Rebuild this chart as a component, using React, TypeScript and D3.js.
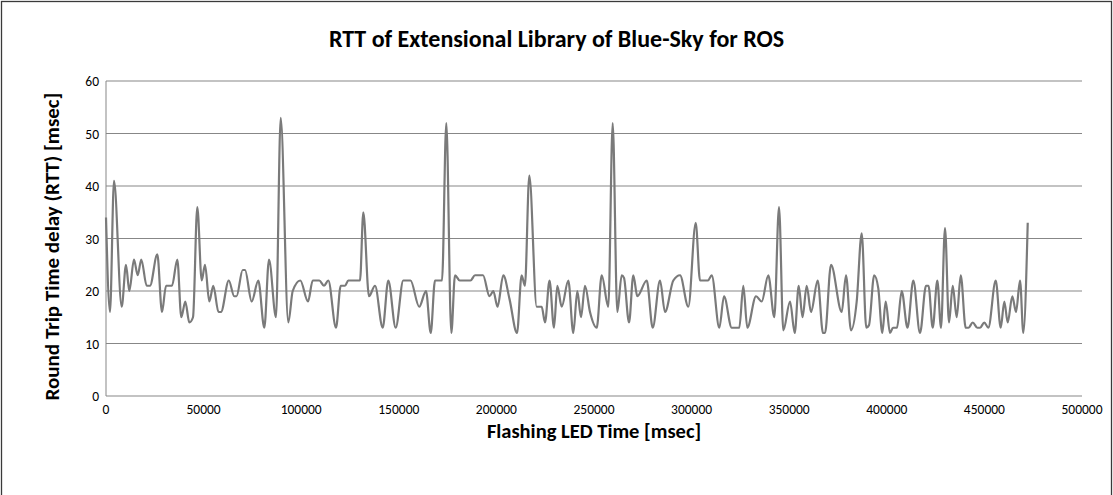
import React from "react";
import * as d3 from "d3";

// flashing LED time [msec] and round trip time [msec]
const times = [
  0, 2050, 4100, 8040, 10250, 11940, 14340, 16240, 18080, 20850, 22540, 26280, 28690, 30740, 33810, 36530,
  38580, 40630, 42680, 44570, 46770, 49030, 50720, 52920, 54970, 57630, 58910, 62910, 65680, 66860, 70030,
  71210, 74640, 78020, 81100, 83500, 87090, 89500, 93390, 95650, 99540, 103490, 105900, 109270, 111680,
  113890, 117830, 120240, 122440, 124130, 130120, 131820, 134730, 137810, 141750, 144620, 148410, 152300,
  156000, 160460, 163940, 166350, 168550, 172140, 174340, 176900, 178800, 181200, 186740, 189040, 193140,
  196470, 198420, 200570, 203540, 206700, 210560, 212920, 214610, 216860, 220650, 223210, 224900, 227210,
  229510, 231200, 233460, 236840, 239400, 241450, 243340, 245390, 247950, 251390, 253950, 257330, 259580,
  261940, 264200, 265370, 267940, 270140, 272190, 277010, 280080, 283820, 286380, 290640, 294070, 298320,
  302110, 304310, 308410, 310300, 314200, 316610, 320550, 324440, 326490, 328540, 333000, 335920, 339300,
  342370, 344780, 346990, 350420, 352830, 354870, 356830, 358970, 361170, 364600, 367320, 368340, 371420,
  376900, 379100, 381660, 384580, 387140, 389490, 390880, 393540, 395640, 397690, 399430, 401630, 403170,
  405220, 407630, 410600, 413580, 417010, 420090, 421370, 423520, 425880, 427770, 429820, 431870, 433770,
  435820, 437870, 440430, 441870, 444020, 446380, 447760, 449960, 452010, 455800, 458360, 460200, 461940,
  464300, 466200, 468250, 469940, 472200,
];
const rtt = [
  34, 16, 41, 17, 25, 20, 26, 23, 26, 21, 21, 27, 16, 21, 21, 26,
  15, 18, 14, 15, 36, 22, 25, 18, 21, 16, 16, 22, 19, 19, 24,
  24, 18, 22, 13, 26, 15, 53, 14, 20, 22, 18, 22, 22, 21,
  22, 13, 21, 21, 22, 22, 35, 19, 21, 13, 22, 13, 22,
  22, 17, 20, 12, 22, 22, 52, 12, 23, 22, 22, 23, 23,
  19, 20, 17, 23, 18.5, 12, 23, 21, 42, 17, 17, 14, 22,
  13, 21, 17, 22, 12, 20, 15, 21, 16, 13, 23, 17, 52,
  16, 23, 22.5, 14, 23, 19, 22, 13, 22, 16, 22, 23, 17,
  33, 22, 22, 23, 13, 19, 13, 13, 21, 13, 19, 18, 23,
  15, 36, 12.5, 18, 12, 21, 15, 21, 16, 22, 12, 12, 25,
  16, 23, 12.5, 18, 31, 13, 13.5, 23, 20.5, 12, 18, 12, 13,
  13, 20, 13, 22, 12, 21, 21, 13, 22, 13, 32, 14, 21,
  15, 23, 13, 13, 14, 13, 13, 14, 13, 22, 13, 18, 14,
  19, 16, 22, 12, 33,
];
const xTicks = [0, 50000, 100000, 150000, 200000, 250000, 300000, 350000, 400000, 450000, 500000];
const yTicks = [0, 10, 20, 30, 40, 50, 60];

const title = "RTT of Extensional Library of Blue-Sky for ROS";
const xTitle = "Flashing LED Time [msec]";
const yTitle = "Round Trip Time delay (RTT) [msec]";

export default function App() {
  const W = 1113, H = 495;
  const left = 106, right = 1082, top = 81, bottom = 396;

  const x = d3.scaleLinear().domain([0, 500000]).range([left, right]);
  const y = d3.scaleLinear().domain([0, 60]).range([bottom, top]);

  const pts = times.map((t, i) => [t, rtt[i]] as [number, number]);
  const line = d3.line<[number, number]>()
    .x(d => x(d[0]))
    .y(d => y(d[1]))
    .curve(d3.curveMonotoneX);

  const font = "Carlito, 'Liberation Sans', Arial, sans-serif";

  return (
    <svg width={W} height={H} style={{ position: "absolute", left: 0, top: 0 }} fontFamily={font}>
      <rect x={0} y={0} width={W} height={H} fill="#fff" />
      <rect x={1.5} y={1.5} width={W - 3} height={H + 10} fill="none" stroke="#3a3a3a" strokeWidth={1.3} />

      <text x={W / 2} y={47} textAnchor="middle" fontSize={24} fontWeight="bold" fill="#000">{title}</text>

      {yTicks.map(v => (
        <g key={"y" + v}>
          <line x1={left} x2={right} y1={y(v)} y2={y(v)} stroke="#878787" strokeWidth={1} />
          <text x={left - 7} y={y(v) + 5} textAnchor="end" fontSize={13.5} fill="#000">{v}</text>
        </g>
      ))}
      <line x1={left} x2={left} y1={top} y2={bottom} stroke="#878787" strokeWidth={1} />

      {xTicks.map(v => (
        <text key={"x" + v} x={x(v)} y={bottom + 17.5} textAnchor="middle" fontSize={13.5} fill="#000">{v}</text>
      ))}

      <path d={line(pts) || ""} fill="none" stroke="#7a7a7a" strokeWidth={2.2} strokeLinejoin="round" />

      <text x={(left + right) / 2} y={438} textAnchor="middle" fontSize={20.5} fontWeight="bold" fill="#000">{xTitle}</text>
      <text transform={`translate(59, ${(top + bottom) / 2 + 8}) rotate(-90)`} textAnchor="middle" fontSize={21} fontWeight="bold" fill="#000">{yTitle}</text>
    </svg>
  );
}
